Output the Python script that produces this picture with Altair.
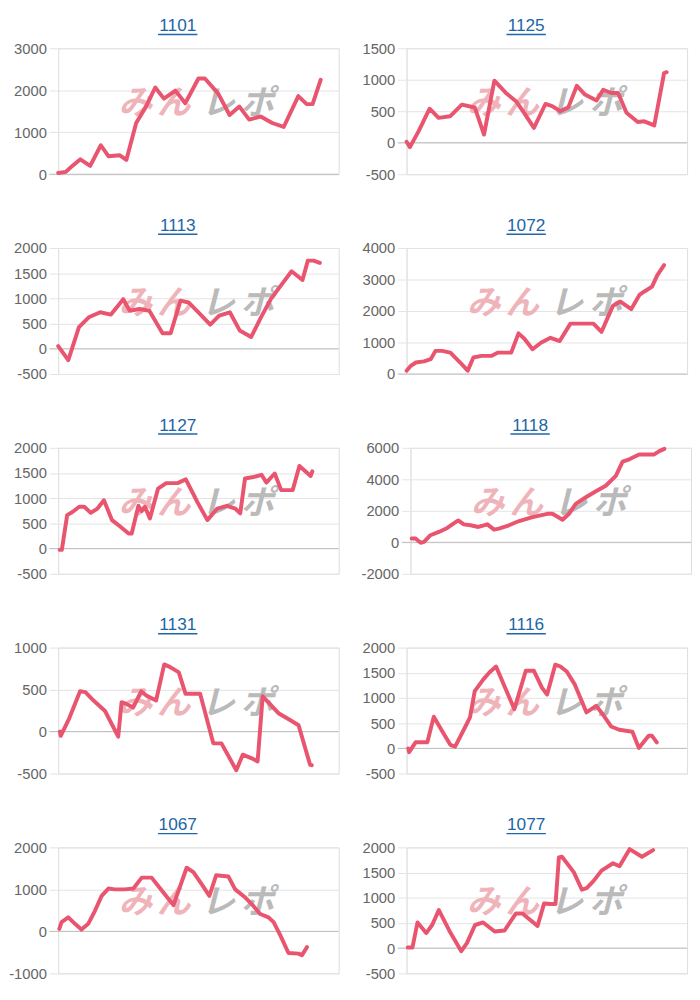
import altair as alt
import pandas as pd

# ---------------- data ----------------
titles = ["1101", "1125", "1113", "1072", "1127", "1118", "1131", "1116", "1067", "1077"]

t_1101 = [0, 2.7, 4.4, 7.9, 11.4, 15.2, 17.9, 22, 24.3, 27.8, 31.3, 34.6, 37.7, 41.8, 45.3, 50, 52.3, 57, 61.1, 64.6, 68.1, 72.2, 76.3, 80.4, 85.6, 88.6, 90.7, 93.6]
v_1101 = [30, 55, 160, 355, 200, 690, 430, 450, 340, 1220, 1610, 2065, 1800, 1990, 1690, 2280, 2280, 1925, 1410, 1610, 1300, 1375, 1220, 1125, 1860, 1670, 1670, 2250]

t_1125 = [0, 1.2, 4.3, 8.2, 11.4, 15.5, 19.7, 24.3, 27.6, 31.3, 35.4, 39, 41.9, 45.4, 49.5, 51.9, 54.8, 57.7, 60.7, 63.6, 67.7, 70.1, 73, 75.4, 78.4, 82.4, 84.7, 88.3, 91.8, 92.7]
v_1125 = [15, -70, 185, 540, 395, 420, 605, 560, 130, 985, 790, 660, 475, 235, 615, 580, 500, 565, 905, 765, 670, 840, 790, 790, 475, 330, 340, 275, 1105, 1120]

t_1113 = [0, 3.6, 7.4, 10.9, 15, 18.8, 23.2, 25.5, 29, 32.5, 37.2, 40.1, 43.6, 46.5, 50.6, 54.2, 57.4, 61.2, 64.7, 68.8, 72.3, 75.8, 79.9, 83.2, 87.1, 89, 91, 93.3]
v_1113 = [55, -225, 430, 625, 725, 680, 985, 755, 790, 755, 310, 310, 955, 920, 690, 480, 660, 725, 365, 235, 625, 985, 1295, 1540, 1365, 1750, 1750, 1705]

t_1072 = [0, 1.5, 3.3, 6.2, 8.6, 10.3, 12.7, 15.6, 19.1, 21.8, 23.8, 26.7, 30.2, 32.6, 37.3, 39.9, 42, 44.9, 47.9, 51.3, 54.6, 58.4, 60.7, 66.6, 69.5, 71.9, 73.6, 76.2, 80.1, 83, 84.8, 87.5, 89.4, 91.8]
v_1072 = [105, 260, 365, 400, 470, 735, 735, 680, 365, 105, 525, 575, 575, 680, 680, 1290, 1120, 785, 995, 1150, 1045, 1600, 1600, 1600, 1340, 1830, 2170, 2300, 2060, 2510, 2620, 2775, 3140, 3455]

t_1127 = [0.5, 1.3, 3.2, 5.2, 7.5, 9.3, 11.6, 14, 16.3, 19.2, 22.2, 25.1, 26.2, 28.6, 29.7, 30.9, 32.7, 35.6, 38.5, 42.6, 45.5, 49.7, 53.2, 56.7, 60.2, 63.1, 64.9, 66.6, 69.6, 72.5, 74.2, 77.2, 79.5, 83.6, 86, 90, 90.6]
v_1127 = [-25, -25, 665, 730, 830, 830, 710, 795, 960, 565, 435, 300, 300, 850, 745, 830, 600, 1190, 1300, 1300, 1375, 915, 565, 795, 850, 795, 700, 1390, 1420, 1465, 1310, 1490, 1160, 1160, 1640, 1440, 1535]

t_1118 = [0.4, 1.8, 3.6, 4.8, 7.1, 10.1, 13.1, 14.9, 17, 19, 21.4, 24.2, 27.4, 29.8, 31.5, 35.1, 38.7, 43.5, 48.8, 50.6, 54.2, 56.5, 58.9, 62.5, 66.1, 69.6, 73.2, 75.6, 78, 81.5, 86.9, 88.7, 90.5]
v_1118 = [240, 240, -30, 30, 450, 660, 910, 1140, 1390, 1140, 1080, 975, 1140, 805, 870, 1080, 1350, 1600, 1810, 1810, 1435, 1810, 2440, 2860, 3240, 3590, 4220, 5120, 5270, 5580, 5580, 5790, 5935]

t_1131 = [0.6, 0.9, 3.9, 7.8, 9.7, 12.6, 16.7, 21.4, 22.6, 24.3, 26.7, 29.6, 31.4, 34.9, 37.8, 40.1, 43, 45.4, 50.6, 55.3, 58.2, 63.5, 65.8, 68.8, 71.1, 72.9, 78.7, 82.8, 85.7, 89.8, 90.4]
v_1131 = [0, -50, 155, 480, 470, 370, 245, -60, 350, 330, 285, 480, 430, 370, 800, 765, 705, 450, 450, -140, -140, -460, -275, -315, -355, 420, 215, 135, 75, -395, -400]

t_1116 = [0.6, 0.9, 3.2, 7.4, 9.7, 12.6, 15.6, 17.3, 20.8, 22.6, 24.3, 27.3, 29.6, 31.9, 35.4, 38.4, 42.5, 45.4, 48.3, 50.1, 53, 54.7, 57.1, 60, 64.1, 67.6, 69.9, 72.9, 75.8, 80.5, 82.8, 86.3, 87.5, 89.2]
v_1116 = [0, -75, 120, 120, 630, 350, 70, 35, 415, 615, 1135, 1365, 1510, 1625, 1170, 780, 1540, 1540, 1200, 1070, 1660, 1630, 1525, 1265, 715, 845, 680, 435, 370, 330, 10, 250, 250, 120]

t_1067 = [0.4, 1.2, 3.6, 6, 8.3, 10.7, 13.1, 15.5, 17.9, 20.2, 23.8, 26.8, 29.8, 33.3, 37.5, 41.1, 45.8, 48.2, 51.2, 53.9, 56.3, 60.7, 63.1, 66.7, 69, 72, 75, 76.8, 79.2, 82.1, 85.7, 86.9, 88.7]
v_1067 = [60, 220, 335, 180, 45, 180, 490, 845, 1020, 1000, 1000, 1020, 1280, 1280, 925, 625, 1515, 1410, 1120, 845, 1335, 1305, 1000, 805, 650, 415, 335, 220, -95, -515, -530, -570, -375]

t_1077 = [0.4, 2.1, 3.9, 7, 9.1, 11.5, 15.6, 19.5, 21.5, 24.4, 27.3, 31.4, 34.9, 39, 41.3, 44.1, 46.7, 49, 51.3, 53.1, 54.3, 55.4, 59.6, 62.5, 64.2, 66.6, 69.5, 73.6, 75.9, 79.5, 83.9, 87.9]
v_1077 = [15, 15, 510, 300, 460, 755, 310, -60, 100, 460, 510, 330, 350, 690, 690, 560, 440, 885, 875, 875, 1800, 1815, 1510, 1160, 1190, 1330, 1540, 1685, 1625, 1965, 1815, 1945]

ticks_1101 = [0, 1000, 2000, 3000]
ticks_1125 = [-500, 0, 500, 1000, 1500]
ticks_1113 = [-500, 0, 500, 1000, 1500, 2000]
ticks_1072 = [0, 1000, 2000, 3000, 4000]
ticks_1127 = [-500, 0, 500, 1000, 1500, 2000]
ticks_1118 = [-2000, 0, 2000, 4000, 6000]
ticks_1131 = [-500, 0, 500, 1000]
ticks_1116 = [-500, 0, 500, 1000, 1500, 2000]
ticks_1067 = [-1000, 0, 1000, 2000]
ticks_1077 = [-500, 0, 500, 1000, 1500, 2000]

series = [
    (t_1101, v_1101, ticks_1101), (t_1125, v_1125, ticks_1125),
    (t_1113, v_1113, ticks_1113), (t_1072, v_1072, ticks_1072),
    (t_1127, v_1127, ticks_1127), (t_1118, v_1118, ticks_1118),
    (t_1131, v_1131, ticks_1131), (t_1116, v_1116, ticks_1116),
    (t_1067, v_1067, ticks_1067), (t_1077, v_1077, ticks_1077),
]

watermark_chars = ["み", "ん", "レ", "ポ"]
watermark_colors = ["#efb3ba", "#efb3ba", "#bababa", "#bababa"]
watermark_offsets = [-64, -25, 20, 60]

# ---------------- styling ----------------
W, H = 285, 128
LINE = "#e9546f"
BLUE = "#2066a6"
GRID = "#e3e3e3"
ZERO = "#bdbdbd"
FONT = "Liberation Sans"
one = pd.DataFrame({"a": [0]})


def panel(name, ts, vs, ticks, extent):
    df = pd.DataFrame({"t": ts, "v": vs})
    yscale = alt.Scale(domain=[ticks[0], ticks[-1]], nice=False, zero=False)
    yaxis = alt.Axis(values=ticks, title=None, labelExpr="datum.value + ''",
                     grid=True, gridColor=GRID, gridWidth=1,
                     tickSize=9, tickColor=GRID, domainColor=GRID,
                     labelFont=FONT, labelFontSize=15, labelColor="#666666",
                     labelPadding=3, minExtent=extent, maxExtent=extent)
    yenc = alt.Y("v:Q", scale=yscale, axis=yaxis)
    xenc = alt.X("t:Q", scale=alt.Scale(domain=[0, 100], nice=False, zero=False), axis=None)

    layers = []
    for ch, col, off in zip(watermark_chars, watermark_colors, watermark_offsets):
        layers.append(
            alt.Chart(one).mark_text(text=ch, font="Noto Sans CJK JP", fontSize=34,
                                     fontWeight="bold", fontStyle="italic", color=col,
                                     align="center", baseline="middle").encode(
                x=alt.value(W / 2 + off), y=alt.value(57)))
    zero = alt.Chart(pd.DataFrame({"v": [0]})).mark_rule(color=ZERO, strokeWidth=1).encode(
        y=yenc, x=alt.value(-9), x2=alt.value(W))
    line = alt.Chart(df).mark_line(color=LINE, strokeWidth=4, strokeJoin="round",
                                   strokeCap="round").encode(x=xenc, y=yenc)
    title = alt.Chart(one).mark_text(text=name, font=FONT, fontSize=17.5, color=BLUE,
                                     align="center", baseline="middle").encode(
        x=alt.value(W / 2 - 21), y=alt.value(-22.5))
    uline = alt.Chart(one).mark_rule(color=BLUE, strokeWidth=1.5).encode(
        x=alt.value(W / 2 - 41), x2=alt.value(W / 2 - 1), y=alt.value(-14))
    layers += [zero, line, title, uline]
    return alt.layer(*layers).properties(width=W, height=H)


rows = []
for i in range(5):
    a = series[2 * i]
    b = series[2 * i + 1]
    left = panel(titles[2 * i], a[0], a[1], a[2], 46)
    right = panel(titles[2 * i + 1], b[0], b[1], b[2], 46)
    rows.append(alt.hconcat(left, right, spacing=21))

chart = alt.vconcat(*rows, spacing=34).properties(
    padding={"left": 0, "top": 1, "right": 0, "bottom": 0}
).configure_view(stroke=None).configure(background="white")

chart.save("out.html", embed_options={"renderer": "svg", "actions": False})
